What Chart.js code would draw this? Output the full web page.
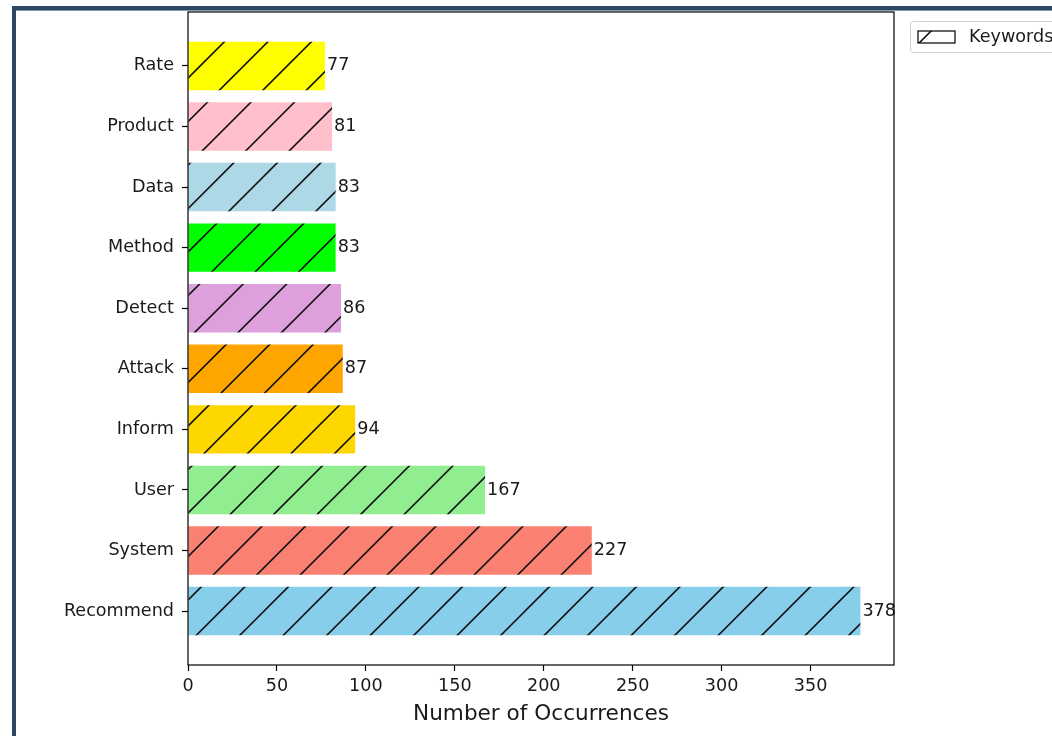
<!DOCTYPE html>
<html>
<head>
<meta charset="utf-8">
<script src="https://cdn.jsdelivr.net/npm/chart.js@4.4.1/dist/chart.umd.min.js"></script>
<style>
    body { margin: 0; background: #ffffff; }
    #frame { position: absolute; left: 12px; top: 6px; width: 1040px; height: 730px; border-left: 4px solid #2b4862; border-top: 4px solid #2b4862; }
    #frame-shade { position: absolute; left: 16px; top: 10px; width: 1036px; height: 1px; background: #8796a3; }
    #wrap { position: absolute; left: 0; top: 0; width: 1052px; height: 736px; }
</style>
</head>
<body>
<div id="frame"></div>
<div id="frame-shade"></div>
<div id="wrap"><canvas id="keyword-chart" width="1052" height="736"></canvas></div>
<script>
// keyword counts, bottom bar first
var keywords = ['Recommend', 'System', 'User', 'Inform', 'Attack', 'Detect', 'Method', 'Data', 'Product', 'Rate'];
var counts = [378, 227, 167, 94, 87, 86, 83, 83, 81, 77];
var barColors = ['#87ceeb', '#fa8072', '#90ee90', '#ffd700', '#ffa500', '#dda0dd', '#00ff00', '#add8e6', '#ffc0cb', '#ffff00'];
var xTicks = [0, 50, 100, 150, 200, 250, 300, 350];
var seriesLabel = 'Keywords';

var fontFamily = '"DejaVu Sans", sans-serif';
var textColor = '#1a1a1a';

// hatch '/' fill, same phase on the whole canvas like matplotlib
function makeHatch(color) {
    var tile = document.createElement('canvas');
    tile.width = 87;
    tile.height = 87;
    var t = tile.getContext('2d');
    t.fillStyle = color;
    t.fillRect(0, 0, 87, 87);
    t.strokeStyle = '#111111';
    t.lineWidth = 1.6;
    for (var k = -1; k < 5; k++) {
        var c = 5.1 + k * 43.5;
        t.beginPath();
        t.moveTo(c + 20, -20);
        t.lineTo(-20, c + 20);
        t.stroke();
    }
    return t.createPattern(tile, 'repeat');
}

var hatchFills = barColors.map(makeHatch);
var points = counts.map(function (v, i) {
    return { x: v, y: i };
});

var xMax = Math.max.apply(null, counts) * 1.05;

var frameBox = {
    id: 'frameBox',
    afterDatasetsDraw: function (chart) {
        var ctx = chart.ctx;
        var area = chart.chartArea;
        var xs = chart.scales.x;
        var ys = chart.scales.y;
        ctx.save();
        // value labels at bar ends
        ctx.font = '17.6px ' + fontFamily;
        ctx.fillStyle = textColor;
        ctx.textAlign = 'left';
        ctx.textBaseline = 'middle';
        counts.forEach(function (v, i) {
            ctx.fillText(String(v), xs.getPixelForValue(v) + 2, ys.getPixelForValue(i));
        });
        // axes box
        ctx.strokeStyle = '#000000';
        ctx.lineWidth = 1.2;
        ctx.strokeRect(area.left, area.top, area.right - area.left, area.bottom - area.top);

        // legend
        ctx.beginPath();
        ctx.roundRect(910.5, 21.5, 200, 31, 3);
        ctx.fillStyle = 'rgba(255,255,255,0.8)';
        ctx.fill();
        ctx.strokeStyle = '#d0d0d0';
        ctx.lineWidth = 1;
        ctx.stroke();
        ctx.fillStyle = makeHatch('#ffffff');
        ctx.fillRect(918, 31, 37, 12);
        ctx.strokeStyle = '#000000';
        ctx.lineWidth = 1.2;
        ctx.strokeRect(918, 31, 37, 12);
        ctx.fillStyle = textColor;
        ctx.font = '17.6px ' + fontFamily;
        ctx.textBaseline = 'middle';
        ctx.fillText(seriesLabel, 969, 37);
        ctx.restore();
    }
};

var chart = new Chart(document.getElementById('keyword-chart'), {
    type: 'bar',
    data: {
        datasets: [{
            label: seriesLabel,
            data: points,
            backgroundColor: hatchFills,
            borderWidth: 0,
            barPercentage: 0.8,
            categoryPercentage: 1.0
        }]
    },
    options: {
        indexAxis: 'y',
        responsive: false,
        animation: false,
        layout: {
            padding: { left: 0, top: 12, right: 158, bottom: 0 }
        },
        plugins: {
            legend: { display: false },
            tooltip: { enabled: false }
        },
        scales: {
            x: {
                type: 'linear',
                min: 0,
                max: xMax,
                afterBuildTicks: function (scale) {
                    scale.ticks = xTicks.map(function (v) { return { value: v }; });
                },
                afterFit: function (scale) {
                    scale.height = 71;
                    scale.paddingLeft = 0;
                    scale.paddingRight = 0;
                },
                grid: { drawOnChartArea: false, tickLength: 6, tickColor: '#000000', tickWidth: 1.2 },
                border: { display: false },
                ticks: {
                    color: textColor,
                    padding: 5,
                    maxRotation: 0,
                    font: { family: fontFamily, size: 17.6 }
                },
                title: {
                    display: true,
                    text: 'Number of Occurrences',
                    color: textColor,
                    font: { family: fontFamily, size: 21.6 },
                    padding: { top: 4, bottom: 9 }
                }
            },
            y: {
                type: 'linear',
                offset: false,
                min: -0.89,
                max: keywords.length - 1 + 0.89,
                afterBuildTicks: function (scale) {
                    scale.ticks = keywords.map(function (k, i) { return { value: i }; });
                },
                afterFit: function (scale) {
                    scale.width = 188;
                    scale.paddingTop = 0;
                    scale.paddingBottom = 0;
                },
                grid: { offset: false, drawOnChartArea: false, tickLength: 6, tickColor: '#000000', tickWidth: 1.2 },
                border: { display: false },
                ticks: {
                    color: textColor,
                    padding: 8,
                    font: { family: fontFamily, size: 17.6 },
                    callback: function (value) {
                        return keywords[value];
                    }
                }
            }
        }
    },
    plugins: [frameBox]
});
</script>
</body>
</html>
